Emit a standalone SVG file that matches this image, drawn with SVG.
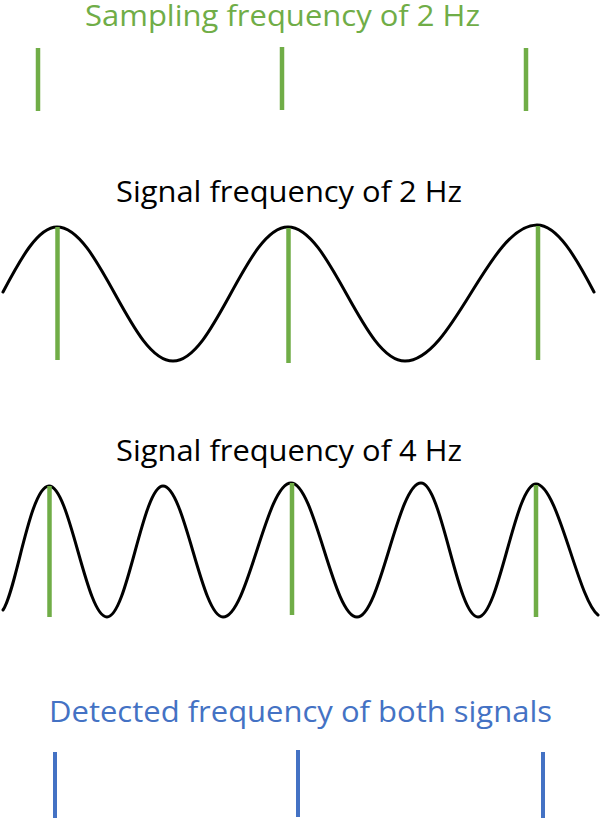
<svg xmlns="http://www.w3.org/2000/svg" width="600" height="820" viewBox="0 0 600 820">
<style>
text{font-family:"Open Sans","Noto Sans","Liberation Sans",sans-serif;font-size:29px}
.g{fill:#70AD47}.b{fill:#4472C4}.k{fill:#000}
.tg{stroke:#70AD47;stroke-width:4.5;fill:none}
.tb{stroke:#4472C4;stroke-width:4;fill:none}
.wave{stroke:#000;stroke-width:3;fill:none;stroke-linecap:round}
</style>
<rect width="600" height="820" fill="#fff"/>
<g id="sampling">
<text class="g" x="85" y="26" textLength="395" lengthAdjust="spacingAndGlyphs">Sampling frequency of 2 Hz</text>
<line class="tg" x1="38" y1="48" x2="38" y2="111"/>
<line class="tg" x1="282" y1="47" x2="282" y2="110"/>
<line class="tg" x1="526" y1="48" x2="526" y2="111"/>
</g>
<g id="signal2">
<text class="k" x="116" y="202" textLength="346" lengthAdjust="spacingAndGlyphs">Signal frequency of 2 Hz</text>
<path class="wave" d="M3,292 C20.6,258.7 38,227 57,227 C99.2,227 130.8,361 173,361 C214.9,361 246.1,227 288,227 C330.6,227 362.4,361 405,361 C453,361 489,225 537,225 C557.4,225 576.1,257.7 594,292"/>
<line class="tg" x1="57.5" y1="227" x2="57.5" y2="360"/>
<line class="tg" x1="288.5" y1="228" x2="288.5" y2="363"/>
<line class="tg" x1="538" y1="226" x2="538" y2="360"/>
</g>
<g id="signal4">
<text class="k" x="116" y="461" textLength="346" lengthAdjust="spacingAndGlyphs">Signal frequency of 4 Hz</text>
<path class="wave" d="M3,610 C16,592 30,486 49,486 C70.1,486 85.9,617 107,617 C127.4,617 142.6,486 163,486 C184.8,486 201.2,617 223,617 C247.8,617 266.2,483 291,483 C315,483 333,617 357,617 C380.3,617 397.7,483 421,483 C441.7,483 457.3,617 478,617 C499.1,617 514.9,484 536,484 C558,484 578,600 598,615"/>
<line class="tg" x1="49.5" y1="486" x2="49.5" y2="617"/>
<line class="tg" x1="292" y1="483" x2="292" y2="615"/>
<line class="tg" x1="536" y1="485" x2="536" y2="617"/>
</g>
<g id="detected">
<text class="b" x="49" y="722" textLength="503" lengthAdjust="spacingAndGlyphs">Detected frequency of both signals</text>
<line class="tb" x1="55" y1="752" x2="55" y2="818"/>
<line class="tb" x1="298" y1="750" x2="298" y2="817"/>
<line class="tb" x1="543" y1="752" x2="543" y2="818"/>
</g>
</svg>
